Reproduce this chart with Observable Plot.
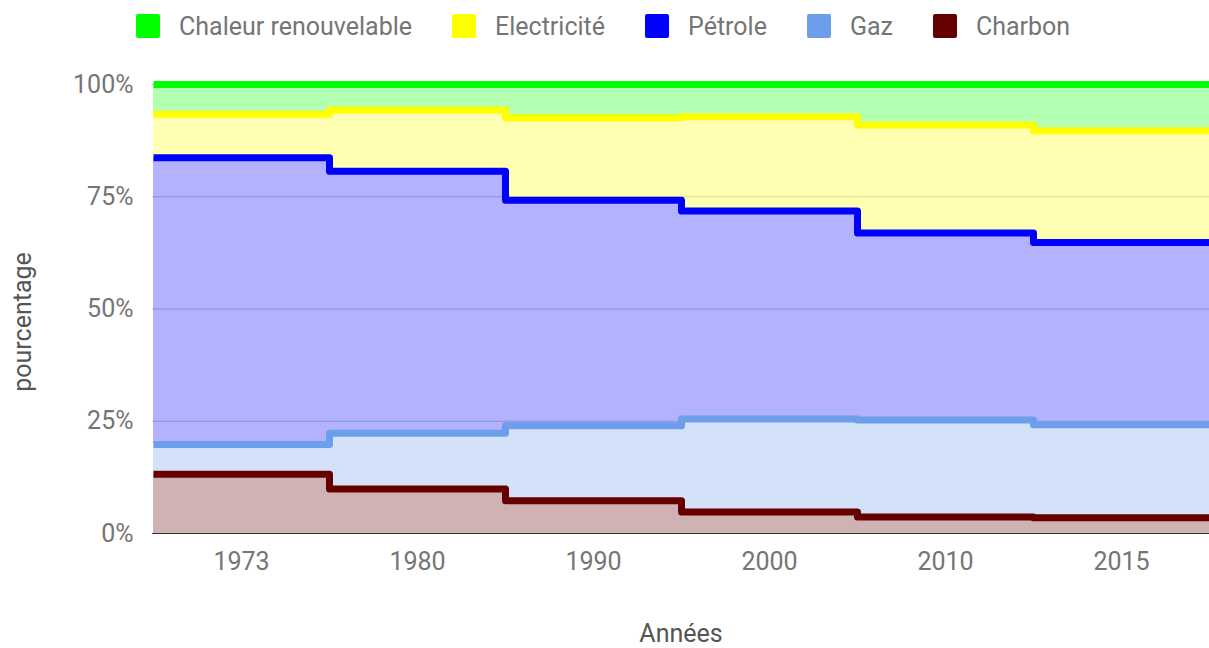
<!DOCTYPE html>
<html>
<head>
<meta charset="utf-8">
<script src="https://cdn.jsdelivr.net/npm/d3@7"></script>
<script src="https://cdn.jsdelivr.net/npm/@observablehq/plot@0.6"></script>
<style>
  html, body { margin: 0; padding: 0; background: #fff; }
  body { width: 1209px; height: 648px; overflow: hidden; font-family: Roboto, sans-serif; }
  #legend { height: 52px; display: flex; align-items: center; padding-left: 136px; box-sizing: border-box; }
  .item { display: flex; align-items: center; margin-right: 40px; }
  .sw { width: 24px; height: 24px; border-radius: 2px; margin-right: 19px; }
  .lbl { font-size: 25px; color: #757575; }
</style>
</head>
<body>
<div id="legend"></div>
<div id="chart"></div>
<script>
// ---- data (percent share of final energy consumption) ----
const years = ["1973", "1980", "1990", "2000", "2010", "2015"];
const sources = ["Charbon", "Gaz", "Pétrole", "Electricité", "Chaleur renouvelable"]; // bottom -> top
const legendOrder = ["Chaleur renouvelable", "Electricité", "Pétrole", "Gaz", "Charbon"];
const colors = ["#660000", "#6d9eeb", "#0000ff", "#ffff00", "#00ff00"];
const charbon = [13.2, 9.9, 7.3, 4.8, 3.7, 3.5];
const gaz = [6.6, 12.4, 16.7, 20.7, 21.6, 20.7];
const petrole = [63.9, 58.4, 50.2, 46.3, 41.6, 40.6];
const electricite = [9.7, 13.6, 18.4, 21.0, 24.1, 24.9];
const chaleur = [6.6, 5.7, 7.4, 7.2, 9.0, 10.3];
const yTicks = [0, 25, 50, 75, 100];
const xTitle = "Années";
const yTitle = "pourcentage";

const series = [charbon, gaz, petrole, electricite, chaleur];
const data = [];
sources.forEach((s, k) => years.forEach((y, i) => data.push({year: y, source: s, value: series[k][i]})));

// Step curve where each category occupies its full band (steps at band boundaries)
function bandStep(context) {
  let xs = [], ys = [], line = NaN;
  return {
    areaStart() { line = 0; },
    areaEnd() { line = NaN; },
    lineStart() { xs = []; ys = []; },
    point(x, y) { xs.push(+x); ys.push(+y); },
    lineEnd() {
      const n = xs.length;
      if (n) {
        const h = n > 1 ? (xs[1] - xs[0]) / 2 : 0;
        if (line) context.lineTo(xs[0] - h, ys[0]); else context.moveTo(xs[0] - h, ys[0]);
        for (let i = 0; i < n - 1; i++) {
          const m = (xs[i] + xs[i + 1]) / 2;
          context.lineTo(m, ys[i]);
          context.lineTo(m, ys[i + 1]);
        }
        context.lineTo(xs[n - 1] + h, ys[n - 1]);
      }
      if (line === 1) context.closePath();
      line = 1 - line;
    }
  };
}

// ---- legend ----
const colorOf = new Map(sources.map((s, i) => [s, colors[i]]));
const lg = d3.select("#legend");
legendOrder.forEach(s => {
  const it = lg.append("div").attr("class", "item");
  it.append("div").attr("class", "sw").style("background", colorOf.get(s));
  it.append("div").attr("class", "lbl").text(s);
});

// ---- chart ----
const chart = Plot.plot({
  width: 1209,
  height: 596,
  marginTop: 32,
  marginBottom: 115,
  marginLeft: 152,
  marginRight: 0,
  style: {fontFamily: "Roboto, sans-serif", fontSize: "25px", color: "#757575", background: "#fff"},
  x: {type: "point", domain: years, padding: 0.5},
  y: {domain: [0, 100]},
  color: {domain: sources, range: colors},
  marks: [
    Plot.gridY(yTicks.slice(1), {stroke: "#cccccc", strokeOpacity: 1}),
    Plot.ruleY([0], {stroke: "#333"}),
    Plot.areaY(data, {x: "year", y: "value", z: "source", fill: "source", fillOpacity: 0.3, order: sources, curve: bandStep}),
    Plot.lineY(data, Plot.stackY2({x: "year", y: "value", z: "source", stroke: "source", order: sources, curve: bandStep, strokeWidth: 7, strokeLinejoin: "round", strokeLinecap: "butt"})),
    Plot.axisY({ticks: yTicks, tickFormat: d => d + "%", tickSize: 0, tickPadding: 19, label: null, fontSize: 25, color: "#757575"}),
    Plot.axisX({tickSize: 0, tickPadding: 19, label: null, fontSize: 25, color: "#757575"}),
    Plot.text([xTitle], {text: d => d, frameAnchor: "bottom", dy: 100, lineAnchor: "middle", fontSize: 25, fill: "#555"}),
    Plot.text([yTitle], {text: d => d, frameAnchor: "left", rotate: -90, dx: -130, dy: 13, textAnchor: "middle", lineAnchor: "middle", fontSize: 25, fill: "#555"})
  ]
});
document.getElementById("chart").appendChild(chart);
</script>
</body>
</html>
